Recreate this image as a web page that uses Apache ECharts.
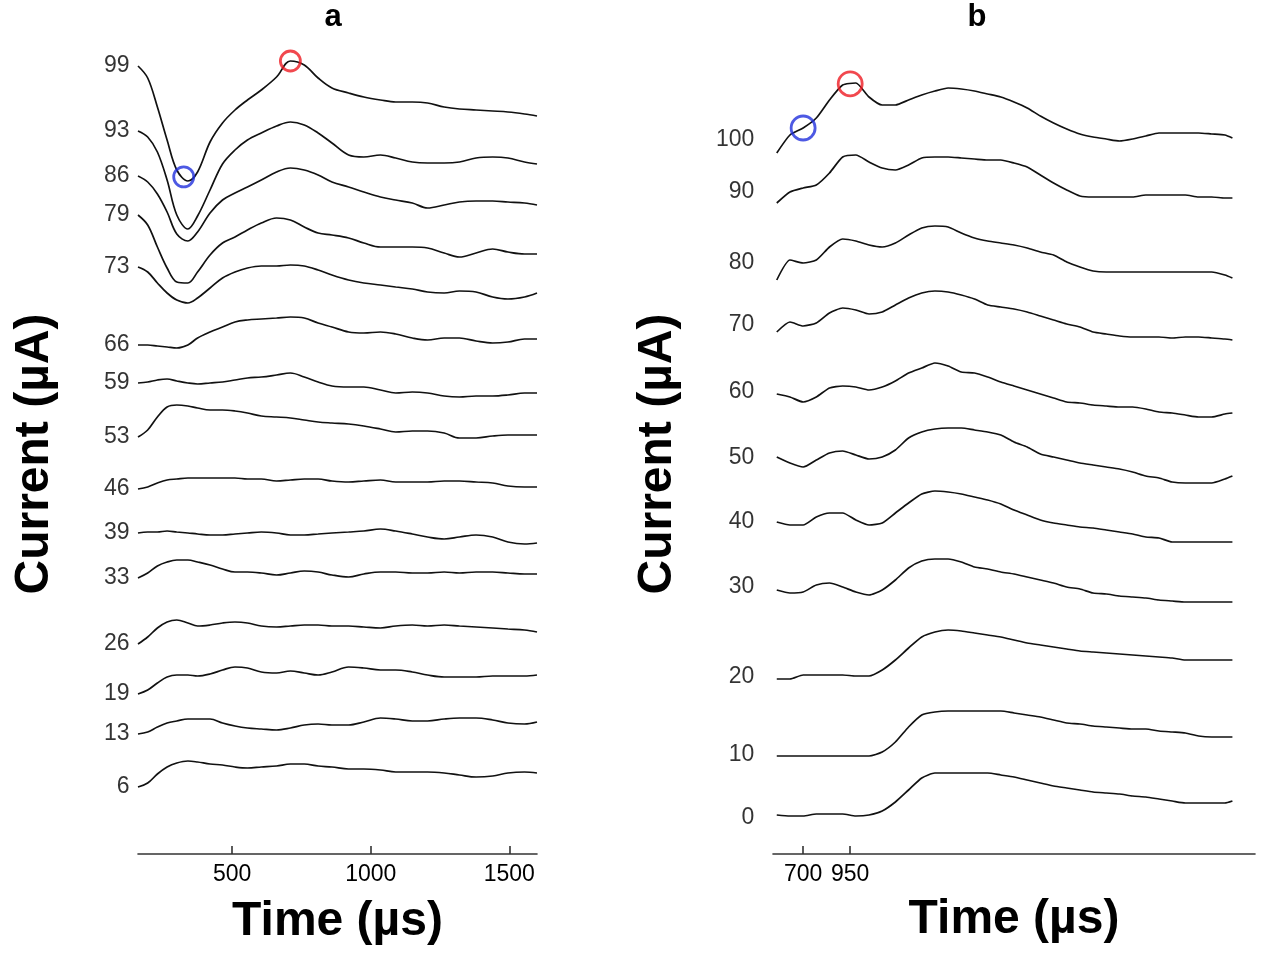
<!DOCTYPE html>
<html>
<head>
<meta charset="utf-8">
<script src="https://cdn.jsdelivr.net/npm/echarts@6/dist/echarts.min.js"></script>
<style>
  html, body { margin: 0; padding: 0; background: #ffffff; }
  #chart { width: 1264px; height: 957px; }
</style>
</head>
<body>
<div id="chart"></div>
<script>
// ---- Panel a: current traces (a.u., stacked) sampled over time (µs) ----
const timeA = [160, 195, 230, 265, 300, 340, 375, 420, 465, 510, 555, 605, 660, 710, 760,
               810, 860, 920, 975, 1035, 1090, 1150, 1205, 1265, 1320, 1380, 1440, 1495, 1555, 1600];
const labelsA = ['99', '93', '86', '79', '73', '66', '59', '53', '46', '39', '33', '26', '19', '13', '6'];
const a99 = [788,776,747,714,684,673,682,712,731,744,754,764,777,793,789,776,766,761,757,754,752,752,751,747,745,744,743,742,740,738];
const a93 = [723,717,702,674,639,625,638,664,690,704,714,721,728,732,729,721,711,699,697,699,696,692,691,691,692,696,697,696,692,690];
const a86 = [678,672,660,642,620,613,622,641,654,661,667,674,682,686,684,679,672,667,662,657,654,651,646,649,652,653,653,652,651,649];
const a79 = [639,629,607,586,572,571,582,599,611,617,624,631,636,634,627,621,619,616,611,607,607,607,606,601,597,601,605,602,600,600];
const a73 = [587,582,571,561,554,551,556,566,576,582,586,588,588,589,588,584,579,574,571,569,567,565,562,561,563,562,557,555,557,561];
const a66 = [509,509,508,507,506,509,516,522,527,532,534,535,536,537,536,531,527,522,521,522,520,516,514,516,516,513,511,512,515,515];
const a59 = [471,472,474,475,473,471,470,471,472,474,476,477,479,481,477,472,468,467,467,464,461,462,461,458,457,458,458,459,461,461];
const a53 = [417,424,437,447,449,448,446,444,444,443,441,438,437,436,434,432,431,430,428,425,422,423,423,421,416,416,418,419,419,419];
const a46 = [365,367,371,374,375,376,376,376,376,376,375,375,373,374,375,375,373,372,373,374,372,372,372,373,373,372,371,368,367,367];
const a39 = [321,322,322,323,322,321,320,319,319,320,321,322,321,319,319,320,321,322,323,325,323,320,317,315,317,319,317,312,310,311];
const a33 = [276,281,288,292,294,294,292,289,285,282,282,281,279,281,283,282,279,277,280,282,282,281,281,282,281,282,282,281,280,280];
const a26 = [210,217,226,232,234,231,228,229,231,232,231,228,227,228,229,229,228,228,227,226,228,229,228,229,228,227,226,225,224,222];
const a19 = [160,164,171,177,179,179,178,180,184,187,186,182,181,183,181,179,182,187,186,184,184,182,179,177,177,177,178,178,178,179];
const a13 = [120,122,127,131,133,135,135,135,131,128,126,125,124,126,129,130,129,129,132,136,135,133,133,135,136,136,134,131,130,132];
const a6  = [67,71,80,87,91,93,92,90,89,87,86,87,88,90,90,88,87,85,85,84,82,82,82,81,79,77,78,81,82,81];
const tracesA = [a99, a93, a86, a79, a73, a66, a59, a53, a46, a39, a33, a26, a19, a13, a6];
const ticksA = [500, 1000, 1500];
// marked trough (blue) and crest (red) on the top trace of panel a
const troughTimeA = 325;
const crestTimeA = 710;

// ---- Panel b ----
const timeB = [560, 630, 700, 770, 840, 910, 980, 1050, 1120, 1190, 1260, 1330, 1400, 1470, 1540, 1610, 1680, 1750,
               1820, 1890, 1960, 2030, 2100, 2170, 2240, 2310, 2380, 2450, 2520, 2590, 2660, 2730, 2800, 2870, 2940, 2980];
const labelsB = ['100', '90', '80', '70', '60', '50', '40', '30', '20', '10', '0'];
const b100 = [701,719,726,736,754,769,771,757,749,749,754,759,763,766,765,763,760,757,752,746,738,731,725,720,717,715,713,715,718,721,721,721,721,720,719,716];
const b90  = [651,662,666,669,681,697,699,692,686,684,689,696,697,697,696,695,694,694,691,687,679,671,664,658,657,657,657,657,659,659,659,659,657,657,656,656];
const b80  = [574,594,591,594,607,615,613,609,607,611,619,626,628,627,621,616,613,611,609,606,602,599,592,587,583,582,582,582,582,582,582,582,582,582,579,576];
const b70  = [522,532,528,531,541,546,544,540,542,549,556,561,563,562,559,555,549,547,545,542,538,534,530,527,522,520,518,517,517,517,516,517,517,516,515,514];
const b60  = [460,457,452,457,466,468,467,464,467,473,481,486,491,488,482,481,477,472,468,464,460,456,452,451,449,448,447,447,445,442,441,439,437,437,440,441];
const b50  = [397,391,387,394,401,403,399,395,397,404,416,422,425,426,426,424,422,419,412,407,400,397,394,391,389,387,385,382,378,376,372,371,371,371,375,378];
const b40  = [332,329,329,337,341,341,334,329,331,341,351,360,363,362,360,357,354,350,344,339,334,331,329,327,326,324,322,320,317,316,312,312,312,312,312,312];
const b30  = [264,261,262,269,271,267,262,259,264,274,286,293,295,295,292,287,285,282,280,277,274,271,267,265,261,260,258,257,256,254,253,252,252,252,252,252];
const b20  = [175,175,179,179,179,179,178,178,184,194,206,217,222,224,223,221,219,217,214,211,209,207,205,203,202,201,200,199,198,197,196,194,194,194,194,194];
const b10  = [98,98,98,98,98,98,98,98,102,112,127,139,142,143,143,143,143,143,141,139,137,134,131,130,128,127,126,125,125,123,122,121,118,117,117,117];
const b0   = [39,38,38,40,40,40,38,39,43,52,64,76,81,81,81,81,81,79,77,74,71,68,66,64,62,61,60,58,57,55,53,51,51,51,51,53];
const tracesB = [b100, b90, b80, b70, b60, b50, b40, b30, b20, b10, b0];
const ticksB = [700, 950];
const troughTimeB = 700;
const crestTimeB = 950;

// vertical nudge (px) of each trace label in panel b
const labelNudgeB = [-13, -11, -17, -7, -2, 1, 0, -3, -2, -1, 3];

const FONT = "'Liberation Sans', Arial, Helvetica, sans-serif";
const INK = '#000000';

// linear interpolation along a sampled trace
function valueAt(times, vals, t) {
  for (let i = 0; i < times.length - 1; i++) {
    if (t >= times[i] && t <= times[i + 1]) {
      const f = (t - times[i]) / (times[i + 1] - times[i]);
      return vals[i] + f * (vals[i + 1] - vals[i]);
    }
  }
  return vals[vals.length - 1];
}

function traceSeries(times, traces, axisIdx, smooth) {
  return traces.map(vals => ({
    type: 'line',
    xAxisIndex: axisIdx,
    yAxisIndex: axisIdx,
    data: vals.map((v, i) => [times[i], v]),
    showSymbol: false,
    smooth: smooth,
    lineStyle: { color: '#111111', width: 1.7 },
    silent: true,
    z: 2
  }));
}

function labelSeries(times, traces, labels, axisIdx, distance, nudges) {
  return {
    type: 'scatter',
    xAxisIndex: axisIdx,
    yAxisIndex: axisIdx,
    symbolSize: 1,
    itemStyle: { color: 'rgba(0,0,0,0)' },
    silent: true,
    data: traces.map((vals, i) => ({
      value: [times[0], vals[0]],
      label: {
        show: true,
        position: 'left',
        distance: distance,
        offset: [0, nudges ? nudges[i] : 0],
        formatter: labels[i],
        fontFamily: FONT,
        fontSize: 23,
        color: INK
      }
    }))
  };
}

function markerSeries(times, vals, tTrough, tCrest, axisIdx, size) {
  return {
    type: 'scatter',
    xAxisIndex: axisIdx,
    yAxisIndex: axisIdx,
    symbol: 'circle',
    symbolSize: size,
    silent: true,
    z: 5,
    data: [
      { value: [tTrough, valueAt(times, vals, tTrough)],
        itemStyle: { color: 'rgba(0,0,0,0)', borderColor: '#2030dc', borderWidth: 2.8 } },
      { value: [tCrest, valueAt(times, vals, tCrest)],
        itemStyle: { color: 'rgba(0,0,0,0)', borderColor: '#ee1a22', borderWidth: 2.8 } }
    ]
  };
}

function xAxisCfg(idx, min, max, ticks, nameGap) {
  return {
    gridIndex: idx,
    type: 'value',
    min: min,
    max: max,
    axisLine: { lineStyle: { color: '#333333', width: 1.6 } },
    axisTick: { inside: true, length: 8, customValues: ticks, lineStyle: { color: '#333333', width: 1.6 } },
    axisLabel: { customValues: ticks, formatter: v => String(v), fontFamily: FONT, fontSize: 23, color: INK, margin: 9 },
    splitLine: { show: false },
    name: 'Time (µs)',
    nameLocation: 'middle',
    nameGap: nameGap,
    nameTextStyle: { fontFamily: FONT, fontSize: 48, fontWeight: 'bold', color: '#000' }
  };
}

function yAxisCfg(idx, nameGap) {
  return {
    gridIndex: idx,
    type: 'value',
    min: 0,
    max: 800,
    axisLine: { show: false },
    axisTick: { show: false },
    axisLabel: { show: false },
    splitLine: { show: false },
    name: 'Current (µA)',
    nameLocation: 'middle',
    nameRotate: 90,
    nameGap: nameGap,
    nameTextStyle: { fontFamily: FONT, fontSize: 48, fontWeight: 'bold', color: '#000' }
  };
}

const chart = echarts.init(document.getElementById('chart'), null, { renderer: 'canvas' });

chart.setOption({
  backgroundColor: '#ffffff',
  animation: false,
  grid: [
    { left: 138, width: 399, top: 54, height: 800 },
    { left: 773, width: 482, top: 54, height: 800 }
  ],
  xAxis: [
    xAxisCfg(0, 160, 1600, ticksA, 44),
    xAxisCfg(1, 540, 3100, ticksB, 42)
  ],
  yAxis: [
    yAxisCfg(0, 79),
    yAxisCfg(1, 91)
  ],
  graphic: [
    { type: 'text', x: 333, y: 17,
      style: { text: 'a', font: "bold 31px 'Liberation Sans', Arial, sans-serif", fill: '#000',
               textAlign: 'center', textVerticalAlign: 'middle', align: 'center', verticalAlign: 'middle' } },
    { type: 'text', x: 977, y: 17,
      style: { text: 'b', font: "bold 31px 'Liberation Sans', Arial, sans-serif", fill: '#000',
               textAlign: 'center', textVerticalAlign: 'middle', align: 'center', verticalAlign: 'middle' } }
  ],
  series: [
    ...traceSeries(timeA, tracesA, 0, 0.35),
    ...traceSeries(timeB, tracesB, 1, 0.2),
    labelSeries(timeA, tracesA, labelsA, 0, 8, null),
    labelSeries(timeB, tracesB, labelsB, 1, 22, labelNudgeB),
    markerSeries(timeA, a99, troughTimeA, crestTimeA, 0, 20),
    markerSeries(timeB, b100, troughTimeB, crestTimeB, 1, 24)
  ]
});
</script>
</body>
</html>
